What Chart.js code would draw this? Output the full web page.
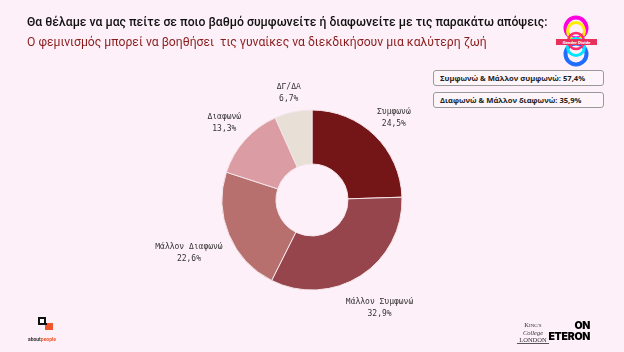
<!DOCTYPE html>
<html>
<head>
<meta charset="utf-8">
<script src="https://cdn.jsdelivr.net/npm/chart.js@4"></script>
<style>
  html, body { margin: 0; padding: 0; }
  body { width: 624px; height: 352px; background: #fdf0f8; position: relative; overflow: hidden; font-family: Roboto, "Noto Sans", sans-serif; }
  #wrap { position: absolute; left: 0; top: 0; width: 624px; height: 352px; }
  .t1 { position: absolute; left: 27px; top: 15px; font-size: 12.2px; font-weight: 500; color: #111; white-space: nowrap; }
  .t2 { position: absolute; left: 27px; top: 35px; font-size: 12.2px; font-weight: 400; color: #8a1c1c; white-space: nowrap; }
  .box { position: absolute; left: 433px; width: 163px; height: 14px; border: 1px solid #9a9a9a; border-radius: 3px; background: #fdf5fa; font-family: "Open Sans", sans-serif; font-size: 7.6px; font-weight: 700; color: #222; line-height: 14px; padding-left: 6px; box-sizing: content-box; white-space: nowrap; }
  .ap { position: absolute; left: 28px; top: 336px; font-size: 5px; font-weight: 700; color: #333; }
  .ap span { color: #f0562a; }
  .kcl { position: absolute; left: 517px; top: 321px; font-family: "Liberation Serif", serif; font-size: 6.5px; line-height: 7px; color: #333; text-align: center; width: 32px; border-bottom: 1px solid #555; }
  .on { position: absolute; left: 540px; top: 321px; font-family: Inter, Roboto, sans-serif; font-weight: 900; font-size: 10.5px; line-height: 10.5px; color: #000; text-align: right; width: 50px; letter-spacing: -0.3px; }
</style>
</head>
<body>
<div id="wrap"><canvas id="graph" width="624" height="352"></canvas></div>
<div class="t1">Θα θέλαμε να μας πείτε σε ποιο βαθμό συμφωνείτε ή διαφωνείτε με τις παρακάτω απόψεις:</div>
<div class="t2">Ο φεμινισμός μπορεί να βοηθήσει &nbsp;τις γυναίκες να διεκδικήσουν μια καλύτερη ζωή</div>
<div class="box" id="box1" style="top:70px"></div>
<div class="box" id="box2" style="top:92px"></div>

<svg style="position:absolute;left:550px;top:10px" width="54" height="62">
  <circle cx="26" cy="18" r="10.5" fill="none" stroke="#ff00e0" stroke-width="4"/>
  <circle cx="26" cy="21" r="8.5" fill="none" stroke="#ffee00" stroke-width="3"/>
  <circle cx="26" cy="44" r="10.5" fill="none" stroke="#1f6cff" stroke-width="4"/>
  <circle cx="26" cy="37" r="8.5" fill="none" stroke="#00e5ff" stroke-width="3"/>
  <circle cx="26" cy="31" r="8" fill="none" stroke="#ff2a6a" stroke-width="2.5"/>
  <rect x="6" y="29" width="41" height="6" fill="#e8305c"/>
  <text x="26.5" y="33.8" font-size="4.4" font-weight="700" fill="#fff" text-anchor="middle" font-family="Roboto">Gender Divide</text>
</svg>
<svg style="position:absolute;left:37px;top:316px" width="18" height="16">
  <rect x="1" y="1" width="8" height="8" fill="#111"/>
  <rect x="3" y="3" width="4" height="4" fill="#fff"/>
  <rect x="8" y="7" width="8" height="7" fill="#f0562a"/>
  <rect x="8" y="7" width="2" height="2" fill="#111"/>
</svg>
<div class="ap">about<span>people</span></div>
<div class="kcl">K<span style="font-size:5px">ING'S</span><br><i>College</i><br>LONDON</div>
<div class="on">ON<br>ETERON</div>

<script>
const categories = ["Συμφωνώ", "Μάλλον Συμφωνώ", "Μάλλον Διαφωνώ", "Διαφωνώ", "ΔΓ/ΔΑ"];
const values = [24.5, 32.9, 22.6, 13.3, 6.7];
const sliceColors = ["#741618", "#95454b", "#b8706f", "#dc9ca3", "#e8e0d6"];

function fmt(v) { return v.toFixed(1).replace(".", ",") + "%"; }

document.getElementById("box1").textContent = "Συμφωνώ & Μάλλον συμφωνώ: " + fmt(values[0] + values[1]);
document.getElementById("box2").textContent = "Διαφωνώ & Μάλλον διαφωνώ: " + fmt(values[2] + values[3]);

// labels outside the slices, two lines each
const outerLabels = {
  id: "outerLabels",
  afterDatasetsDraw(chart) {
    const ctx = chart.ctx;
    const meta = chart.getDatasetMeta(0);
    ctx.save();
    ctx.font = "8px 'DejaVu Sans Mono', monospace";
    ctx.fillStyle = "#333";
    ctx.textAlign = "center";
    ctx.textBaseline = "middle";
    meta.data.forEach((arc, i) => {
      const p = arc.getProps(["x", "y", "startAngle", "endAngle", "outerRadius"], true);
      const mid = (p.startAngle + p.endAngle) / 2;
      const dx = Math.cos(mid), dy = Math.sin(mid);
      const w = Math.max(ctx.measureText(categories[i]).width, ctx.measureText(fmt(values[i])).width) / 2;
      const h = 11;
      const r = p.outerRadius + 8 + w * Math.abs(dx) + h * Math.abs(dy);
      const x = p.x + dx * r, y = p.y + dy * r + 2;
      ctx.fillText(categories[i], x, y - 6);
      ctx.fillText(fmt(values[i]), x, y + 6);
    });
    ctx.restore();
  }
};

const graph = document.getElementById("graph").getContext("2d");
new Chart(graph, {
  type: "doughnut",
  data: {
    labels: categories,
    datasets: [{
      data: values,
      backgroundColor: sliceColors,
      borderColor: "#f3e4ea",
      borderWidth: 1
    }]
  },
  options: {
    responsive: false,
    animation: false,
    radius: 90,
    cutout: "40%",
    layout: { padding: { top: 110, bottom: 62, left: 200, right: 200 } },
    plugins: {
      legend: { display: false },
      tooltip: { enabled: false }
    }
  },
  plugins: [outerLabels]
});
</script>
</body>
</html>
